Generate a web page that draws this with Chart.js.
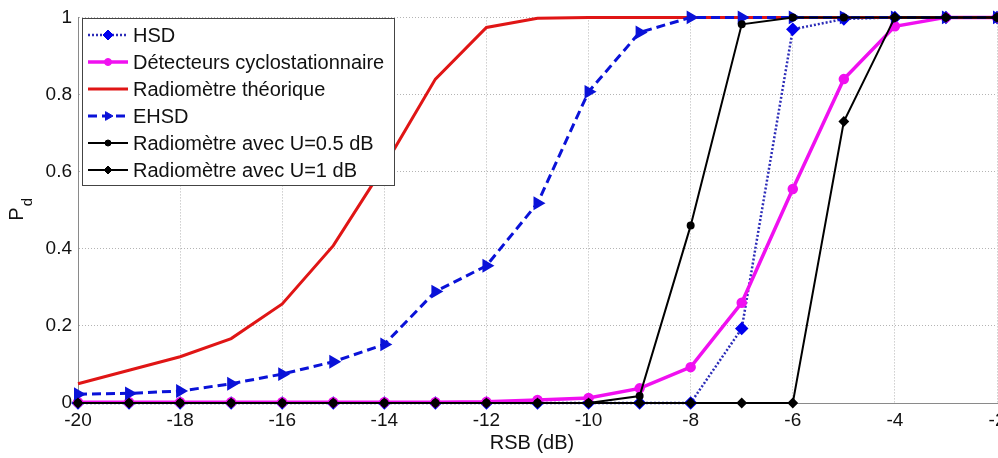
<!DOCTYPE html>
<html>
<head>
<meta charset="utf-8">
<script src="https://cdn.jsdelivr.net/npm/chart.js@4.4.1/dist/chart.umd.min.js"></script>
<style>
  html, body { margin: 0; padding: 0; background: #fff; overflow: hidden; }
  #wrap { position: absolute; left: 0; top: 0; width: 1030px; height: 458px; }
</style>
</head>
<body>
<div id="wrap"><canvas id="myChart" width="1030" height="458"></canvas></div>
<script>
// RSB (dB) sur l'axe x
const rsb = [-20, -19, -18, -17, -16, -15, -14, -13, -12, -11, -10, -9, -8, -7, -6, -5, -4, -3, -2];

// probabilites de detection
const hsd        = [0, 0, 0, 0, 0, 0, 0, 0, 0, 0, 0, 0, 0, 0.193, 0.969, 0.996, 1, 1, 1];
const cyclo      = [0.002, 0.002, 0.002, 0.002, 0.002, 0.002, 0.002, 0.002, 0.003, 0.008, 0.013, 0.038, 0.093, 0.26, 0.555, 0.84, 0.977, 1, 1];
const radTheo    = [0.05, 0.085, 0.12, 0.167, 0.257, 0.408, 0.615, 0.84, 0.974, 0.998, 1, 1, 1, 1, 1, 1, 1, 1, 1];
const ehsd       = [0.023, 0.025, 0.031, 0.05, 0.075, 0.107, 0.152, 0.289, 0.356, 0.518, 0.807, 0.961, 1, 1, 1, 1, 1, 1, 1];
const radU05     = [0, 0, 0, 0, 0, 0, 0, 0, 0, 0, 0, 0.018, 0.46, 0.982, 1, 1, 1, 1, 1];
const radU1      = [0, 0, 0, 0, 0, 0, 0, 0, 0, 0, 0, 0, 0, 0, 0, 0.73, 1, 1, 1];

const labels = ['HSD', 'Détecteurs cyclostationnaire', 'Radiomètre théorique', 'EHSD',
                'Radiomètre avec U=0.5 dB', 'Radiomètre avec U=1 dB'];
const xTicks = [-20, -18, -16, -14, -12, -10, -8, -6, -4, -2];
const yTicks = [0, 0.2, 0.4, 0.6, 0.8, 1];

const FONT = '"Liberation Sans", Arial, sans-serif';

function pts(vals) {
    return vals.map((v, i) => ({ x: rsb[i], y: v }));
}

// petit dessin de marqueur (pour la legende)
function drawMarker(ctx, style, r, color, rot) {
    ctx.save();
    ctx.fillStyle = color;
    ctx.strokeStyle = color;
    ctx.setLineDash([]);
    ctx.lineWidth = 1;
    ctx.beginPath();
    if (style === 'circle') {
        ctx.arc(0, 0, r, 0, Math.PI * 2);
    } else if (style === 'rectRot') {
        ctx.moveTo(0, -r); ctx.lineTo(r, 0); ctx.lineTo(0, r); ctx.lineTo(-r, 0);
    } else if (style === 'triangle') {
        ctx.rotate((rot || 0) * Math.PI / 180);
        ctx.moveTo(0, -r); ctx.lineTo(r * 0.87, r * 0.5); ctx.lineTo(-r * 0.87, r * 0.5);
    }
    ctx.closePath();
    ctx.fill();
    ctx.stroke();
    ctx.restore();
}

const legendBox = {
    id: 'legendBox',
    afterDraw(chart) {
        const ctx = chart.ctx;
        ctx.save();
        ctx.fillStyle = '#fff';
        ctx.fillRect(82, 18, 312, 167);
        ctx.strokeStyle = '#444';
        ctx.lineWidth = 1;
        ctx.strokeRect(82.5, 18.5, 312, 167);
        ctx.font = '20px ' + FONT;
        ctx.textBaseline = 'middle';
        chart.data.datasets.forEach((ds, i) => {
            const y = 35 + i * 27;
            ctx.save();
            ctx.strokeStyle = ds.borderColor;
            ctx.lineWidth = ds.borderWidth;
            ctx.setLineDash(ds.borderDash || []);
            ctx.beginPath();
            ctx.moveTo(88, y);
            ctx.lineTo(128, y);
            ctx.stroke();
            ctx.restore();
            if (ds.pointRadius > 0) {
                ctx.save();
                ctx.translate(108, y);
                drawMarker(ctx, ds.pointStyle, ds.pointRadius, ds.pointBackgroundColor, ds.pointRotation);
                ctx.restore();
            }
            ctx.fillStyle = '#111';
            ctx.fillText(ds.label, 133, y + 1);
        });
        ctx.restore();
    }
};

const axisTitles = {
    id: 'axisTitles',
    afterDraw(chart) {
        const ctx = chart.ctx;
        ctx.save();
        ctx.fillStyle = '#111';
        ctx.font = '20px ' + FONT;
        ctx.textAlign = 'center';
        ctx.textBaseline = 'middle';
        ctx.fillText('RSB (dB)', 532, 443);
        // P_d vertical
        ctx.translate(17, 214);
        ctx.rotate(-Math.PI / 2);
        ctx.textAlign = 'left';
        const w = ctx.measureText('P').width;
        ctx.fillText('P', -w / 2, 0);
        ctx.font = '15px ' + FONT;
        ctx.fillText('d', w / 2 + 1, 11);
        ctx.restore();
    }
};

const ctx = document.getElementById('myChart');

new Chart(ctx.getContext('2d'), {
    type: 'line',
    data: {
        datasets: [
            {
                label: labels[0], data: pts(hsd),
                borderColor: '#2c2cb8', borderWidth: 2.5, borderDash: [2, 2],
                pointStyle: 'rectRot', pointRadius: 5,
                pointBackgroundColor: '#0000ee', pointBorderColor: '#0000ee', order: 6
            },
            {
                label: labels[1], data: pts(cyclo),
                borderColor: '#f010f0', borderWidth: 3.5,
                pointStyle: 'circle', pointRadius: 3.5,
                pointBackgroundColor: '#f010f0', pointBorderColor: '#f010f0', order: 5
            },
            {
                label: labels[2], data: pts(radTheo),
                borderColor: '#e01515', borderWidth: 3,
                pointRadius: 0, order: 4
            },
            {
                label: labels[3], data: pts(ehsd),
                borderColor: '#0a12d8', borderWidth: 3, borderDash: [9, 5],
                pointStyle: 'triangle', pointRotation: 90, pointRadius: 5,
                pointBackgroundColor: '#0a12d8', pointBorderColor: '#0a12d8', order: 3
            },
            {
                label: labels[4], data: pts(radU05),
                borderColor: '#000', borderWidth: 2,
                pointStyle: 'circle', pointRadius: 3,
                pointBackgroundColor: '#000', pointBorderColor: '#000', order: 2
            },
            {
                label: labels[5], data: pts(radU1),
                borderColor: '#000', borderWidth: 2,
                pointStyle: 'rectRot', pointRadius: 4,
                pointBackgroundColor: '#000', pointBorderColor: '#000', order: 1
            }
        ]
    },
    options: {
        responsive: false,
        animation: false,
        clip: false,
        layout: { padding: { left: 0, top: 15, right: 33, bottom: 0 } },
        plugins: {
            legend: { display: false },
            tooltip: { enabled: false }
        },
        elements: { line: { tension: 0 } },
        scales: {
            x: {
                type: 'linear',
                min: -20, max: -2,
                afterBuildTicks: s => { s.ticks = xTicks.map(v => ({ value: v })); },
                afterFit: s => { s.height = 55; },
                ticks: { color: '#111', font: { family: FONT, size: 19 }, padding: 6, maxRotation: 0 },
                grid: { color: '#b4b4b4', lineWidth: 1, drawTicks: false, borderDash: [1, 2] },
                border: { color: '#8a8a8a', width: 1, dash: [1, 2] }
            },
            y: {
                min: 0, max: 1,
                afterBuildTicks: s => { s.ticks = yTicks.map(v => ({ value: v })); },
                afterFit: s => { s.width = 78; },
                ticks: {
                    color: '#111', font: { family: FONT, size: 19 }, padding: 6,
                    callback: v => String(Number(v.toFixed(1)))
                },
                grid: { color: '#b4b4b4', lineWidth: 1, drawTicks: false, borderDash: [1, 2] },
                border: { color: '#8a8a8a', width: 1, dash: [1, 2] }
            }
        }
    },
    plugins: [axisTitles, legendBox]
});
</script>
</body>
</html>
